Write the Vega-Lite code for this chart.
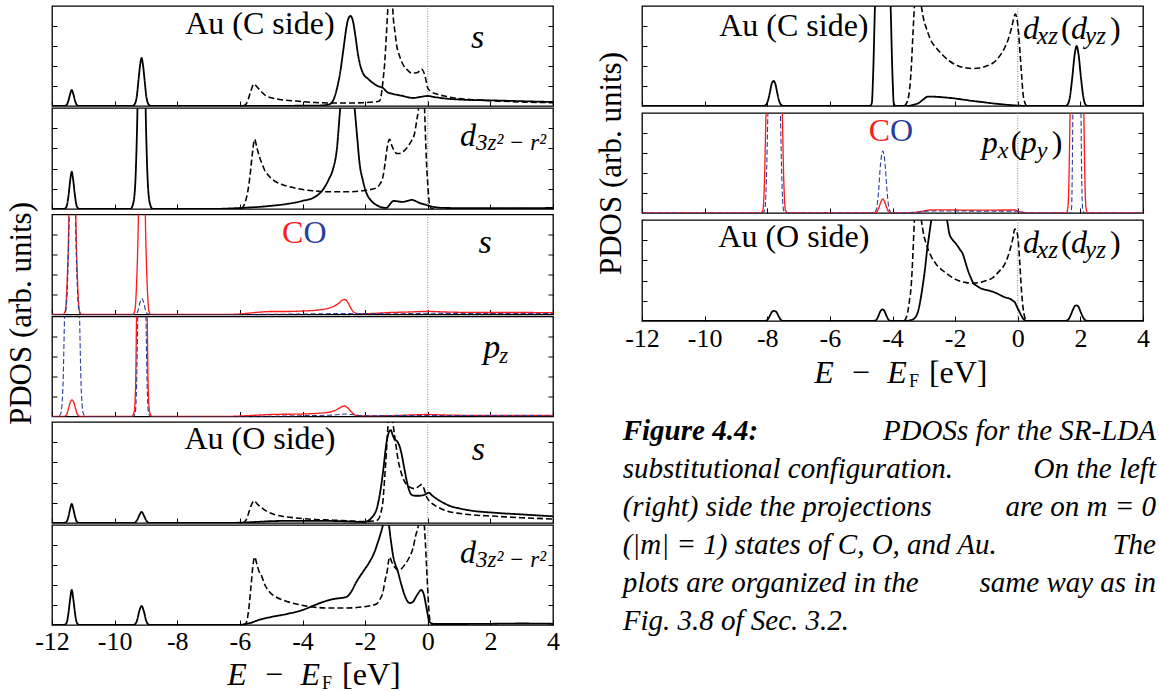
{
"$schema":"https://vega.github.io/schema/vega-lite/v6.json",
"background":"white",
"padding":{"left":5,"top":4,"right":0,"bottom":0},
"config":{"view":{"stroke":"#000","strokeWidth":1.3},"axis":{"minExtent":0,"tickColor":"#000","tickWidth":1,"domain":false,"grid":false,"labelColor":"#000","titleColor":"#000","labelFont":"Liberation Serif, DejaVu Serif, serif","titleFont":"Liberation Serif, DejaVu Serif, serif","titleFontWeight":"normal"},"text":{"font":"Liberation Serif, DejaVu Serif, serif","color":"#000","baseline":"alphabetic"}},
"datasets":{
"ef":[{"e":0}],
"cap":[{"i":1,"b":"Figure 4.4:","l":"","r":"PDOSs for the SR-LDA"},{"i":2,"b":"","l":"substitutional configuration.","r":"On the left"},{"i":3,"b":"","l":"(right) side the projections","r":"are on m = 0"},{"i":4,"b":"","l":"(|m| = 1) states of C, O, and Au.","r":"The"},{"i":5,"b":"","l":"plots are organized in the","r":"same way as in"},{"i":6,"b":"","l":"Fig. 3.8 of Sec. 3.2.","r":""}],
"L1":[{"s":"a","x":-12,"y":0},{"s":"a","x":-11.65,"y":0},{"s":"a","x":-11.57,"y":0.003},{"s":"a","x":-11.52,"y":0.016},{"s":"a","x":-11.47,"y":0.06},{"s":"a","x":-11.42,"y":0.12},{"s":"a","x":-11.37,"y":0.16},{"s":"a","x":-11.32,"y":0.12},{"s":"a","x":-11.27,"y":0.06},{"s":"a","x":-11.22,"y":0.016},{"s":"a","x":-11.17,"y":0.003},{"s":"a","x":-11.1,"y":0},{"s":"a","x":-9.45,"y":0},{"s":"a","x":-9.38,"y":0.01},{"s":"a","x":-9.3,"y":0.08},{"s":"a","x":-9.24,"y":0.25},{"s":"a","x":-9.19,"y":0.4},{"s":"a","x":-9.14,"y":0.48},{"s":"a","x":-9.09,"y":0.4},{"s":"a","x":-9.04,"y":0.25},{"s":"a","x":-8.98,"y":0.08},{"s":"a","x":-8.9,"y":0.01},{"s":"a","x":-8.83,"y":0},{"s":"a","x":-6,"y":0},{"s":"a","x":-4,"y":0.003},{"s":"a","x":-3.4,"y":0.005},{"s":"a","x":-3.14,"y":0.017},{"s":"a","x":-3.0,"y":0.07},{"s":"a","x":-2.92,"y":0.15},{"s":"a","x":-2.8,"y":0.33},{"s":"a","x":-2.7,"y":0.55},{"s":"a","x":-2.6,"y":0.78},{"s":"a","x":-2.55,"y":0.86},{"s":"a","x":-2.47,"y":0.9},{"s":"a","x":-2.39,"y":0.85},{"s":"a","x":-2.31,"y":0.7},{"s":"a","x":-2.23,"y":0.52},{"s":"a","x":-2.15,"y":0.4},{"s":"a","x":-2.07,"y":0.33},{"s":"a","x":-1.9,"y":0.27},{"s":"a","x":-1.75,"y":0.23},{"s":"a","x":-1.6,"y":0.2},{"s":"a","x":-1.43,"y":0.18},{"s":"a","x":-1.3,"y":0.14},{"s":"a","x":-1.1,"y":0.12},{"s":"a","x":-0.95,"y":0.11},{"s":"a","x":-0.8,"y":0.1},{"s":"a","x":-0.6,"y":0.085},{"s":"a","x":-0.47,"y":0.08},{"s":"a","x":-0.25,"y":0.09},{"s":"a","x":0,"y":0.1},{"s":"a","x":0.2,"y":0.09},{"s":"a","x":0.5,"y":0.077},{"s":"a","x":1.13,"y":0.063},{"s":"a","x":2.2,"y":0.055},{"s":"a","x":3,"y":0.048},{"s":"a","x":4,"y":0.04},
{"s":"r","x":-5.9,"y":0},{"s":"r","x":-5.8,"y":0.02},{"s":"r","x":-5.72,"y":0.08},{"s":"r","x":-5.65,"y":0.15},{"s":"r","x":-5.55,"y":0.22},{"s":"r","x":-5.45,"y":0.19},{"s":"r","x":-5.3,"y":0.14},{"s":"r","x":-5.16,"y":0.1},{"s":"r","x":-4.9,"y":0.075},{"s":"r","x":-4.6,"y":0.06},{"s":"r","x":-4.2,"y":0.05},{"s":"r","x":-3.6,"y":0.035},{"s":"r","x":-3.14,"y":0.03},{"s":"r","x":-2.5,"y":0.03},{"s":"r","x":-2.07,"y":0.033},{"s":"r","x":-1.75,"y":0.04},{"s":"r","x":-1.54,"y":0.05},{"s":"r","x":-1.48,"y":0.12},{"s":"r","x":-1.43,"y":0.25},{"s":"r","x":-1.37,"y":0.45},{"s":"r","x":-1.32,"y":0.72},{"s":"r","x":-1.27,"y":1.0},{"s":"r","x":-1.2,"y":1.3},{"s":"r","x":-1.14,"y":1.1},{"s":"r","x":-1.1,"y":0.88},{"s":"r","x":-1.05,"y":0.75},{"s":"r","x":-1.0,"y":0.62},{"s":"r","x":-0.9,"y":0.5},{"s":"r","x":-0.8,"y":0.42},{"s":"r","x":-0.65,"y":0.36},{"s":"r","x":-0.52,"y":0.33},{"s":"r","x":-0.4,"y":0.33},{"s":"r","x":-0.3,"y":0.34},{"s":"r","x":-0.2,"y":0.37},{"s":"r","x":-0.13,"y":0.34},{"s":"r","x":-0.08,"y":0.29},{"s":"r","x":0,"y":0.18},{"s":"r","x":0.1,"y":0.145},{"s":"r","x":0.28,"y":0.12},{"s":"r","x":0.6,"y":0.095},{"s":"r","x":0.92,"y":0.077},{"s":"r","x":1.5,"y":0.062},{"s":"r","x":2.2,"y":0.05},{"s":"r","x":3,"y":0.04},{"s":"r","x":4,"y":0.033}],
"L2":[{"s":"a","x":-12,"y":0},{"s":"a","x":-11.65,"y":0},{"s":"a","x":-11.57,"y":0.008},{"s":"a","x":-11.52,"y":0.04},{"s":"a","x":-11.47,"y":0.14},{"s":"a","x":-11.42,"y":0.28},{"s":"a","x":-11.37,"y":0.37},{"s":"a","x":-11.32,"y":0.28},{"s":"a","x":-11.27,"y":0.14},{"s":"a","x":-11.22,"y":0.04},{"s":"a","x":-11.17,"y":0.008},{"s":"a","x":-11.1,"y":0},{"s":"a","x":-9.5,"y":0},{"s":"a","x":-9.42,"y":0.04},{"s":"a","x":-9.35,"y":0.2},{"s":"a","x":-9.31,"y":0.5},{"s":"a","x":-9.27,"y":1.0},{"s":"a","x":-9.21,"y":2.2},{"s":"a","x":-9.14,"y":3},{"s":"a","x":-9.07,"y":2.2},{"s":"a","x":-9.01,"y":1.0},{"s":"a","x":-8.97,"y":0.5},{"s":"a","x":-8.93,"y":0.2},{"s":"a","x":-8.86,"y":0.04},{"s":"a","x":-8.78,"y":0},{"s":"a","x":-7,"y":0},{"s":"a","x":-6.0,"y":0.01},{"s":"a","x":-5.05,"y":0.03},{"s":"a","x":-4.5,"y":0.05},{"s":"a","x":-4.0,"y":0.08},{"s":"a","x":-3.6,"y":0.12},{"s":"a","x":-3.35,"y":0.19},{"s":"a","x":-3.15,"y":0.3},{"s":"a","x":-3.03,"y":0.39},{"s":"a","x":-2.9,"y":0.6},{"s":"a","x":-2.8,"y":0.98},{"s":"a","x":-2.65,"y":1.4},{"s":"a","x":-2.55,"y":1.5},{"s":"a","x":-2.45,"y":1.35},{"s":"a","x":-2.33,"y":0.98},{"s":"a","x":-2.25,"y":0.7},{"s":"a","x":-2.18,"y":0.46},{"s":"a","x":-2.07,"y":0.28},{"s":"a","x":-1.96,"y":0.16},{"s":"a","x":-1.8,"y":0.08},{"s":"a","x":-1.64,"y":0.04},{"s":"a","x":-1.45,"y":0.015},{"s":"a","x":-1.32,"y":0.01},{"s":"a","x":-1.2,"y":0.05},{"s":"a","x":-1.1,"y":0.08},{"s":"a","x":-0.95,"y":0.075},{"s":"a","x":-0.8,"y":0.07},{"s":"a","x":-0.65,"y":0.08},{"s":"a","x":-0.52,"y":0.09},{"s":"a","x":-0.4,"y":0.08},{"s":"a","x":-0.26,"y":0.06},{"s":"a","x":-0.1,"y":0.045},{"s":"a","x":0.06,"y":0.03},{"s":"a","x":0.3,"y":0.015},{"s":"a","x":0.6,"y":0.01},{"s":"a","x":2,"y":0.008},{"s":"a","x":4,"y":0.01},
{"s":"r","x":-5.95,"y":0},{"s":"r","x":-5.85,"y":0.05},{"s":"r","x":-5.75,"y":0.17},{"s":"r","x":-5.68,"y":0.32},{"s":"r","x":-5.6,"y":0.55},{"s":"r","x":-5.53,"y":0.69},{"s":"r","x":-5.45,"y":0.6},{"s":"r","x":-5.38,"y":0.52},{"s":"r","x":-5.32,"y":0.47},{"s":"r","x":-5.2,"y":0.38},{"s":"r","x":-5.05,"y":0.32},{"s":"r","x":-4.85,"y":0.27},{"s":"r","x":-4.63,"y":0.24},{"s":"r","x":-4.2,"y":0.205},{"s":"r","x":-3.67,"y":0.18},{"s":"r","x":-3.1,"y":0.17},{"s":"r","x":-2.6,"y":0.17},{"s":"r","x":-2.1,"y":0.18},{"s":"r","x":-1.8,"y":0.195},{"s":"r","x":-1.64,"y":0.21},{"s":"r","x":-1.52,"y":0.25},{"s":"r","x":-1.43,"y":0.32},{"s":"r","x":-1.36,"y":0.46},{"s":"r","x":-1.3,"y":0.6},{"s":"r","x":-1.22,"y":0.69},{"s":"r","x":-1.15,"y":0.63},{"s":"r","x":-1.06,"y":0.57},{"s":"r","x":-0.98,"y":0.55},{"s":"r","x":-0.9,"y":0.55},{"s":"r","x":-0.78,"y":0.57},{"s":"r","x":-0.68,"y":0.6},{"s":"r","x":-0.55,"y":0.66},{"s":"r","x":-0.42,"y":0.75},{"s":"r","x":-0.35,"y":0.88},{"s":"r","x":-0.3,"y":0.98},{"s":"r","x":-0.24,"y":1.2},{"s":"r","x":-0.18,"y":1.3},{"s":"r","x":-0.12,"y":1.15},{"s":"r","x":-0.1,"y":0.98},{"s":"r","x":-0.07,"y":0.7},{"s":"r","x":-0.04,"y":0.46},{"s":"r","x":0,"y":0.25},{"s":"r","x":0.06,"y":0.04},{"s":"r","x":0.12,"y":0.005},{"s":"r","x":0.2,"y":0}],
"L3":[{"s":"c","x":-12,"y":0},{"s":"c","x":-11.65,"y":0},{"s":"c","x":-11.58,"y":0.03},{"s":"c","x":-11.52,"y":0.3},{"s":"c","x":-11.46,"y":1.0},{"s":"c","x":-11.4,"y":2.5},{"s":"c","x":-11.35,"y":3},{"s":"c","x":-11.3,"y":2.5},{"s":"c","x":-11.24,"y":1.0},{"s":"c","x":-11.18,"y":0.3},{"s":"c","x":-11.12,"y":0.03},{"s":"c","x":-11.05,"y":0},{"s":"c","x":-9.42,"y":0},{"s":"c","x":-9.36,"y":0.03},{"s":"c","x":-9.3,"y":0.3},{"s":"c","x":-9.24,"y":1.0},{"s":"c","x":-9.18,"y":2.5},{"s":"c","x":-9.13,"y":3},{"s":"c","x":-9.08,"y":2.5},{"s":"c","x":-9.02,"y":1.0},{"s":"c","x":-8.96,"y":0.3},{"s":"c","x":-8.9,"y":0.03},{"s":"c","x":-8.84,"y":0},{"s":"c","x":-6.5,"y":0},{"s":"c","x":-6,"y":0.005},{"s":"c","x":-5.5,"y":0.02},{"s":"c","x":-5,"y":0.03},{"s":"c","x":-4.5,"y":0.03},{"s":"c","x":-4,"y":0.035},{"s":"c","x":-3.5,"y":0.045},{"s":"c","x":-3.1,"y":0.07},{"s":"c","x":-2.85,"y":0.11},{"s":"c","x":-2.72,"y":0.145},{"s":"c","x":-2.65,"y":0.15},{"s":"c","x":-2.55,"y":0.12},{"s":"c","x":-2.45,"y":0.06},{"s":"c","x":-2.35,"y":0.02},{"s":"c","x":-2.2,"y":0.008},{"s":"c","x":-1.8,"y":0.01},{"s":"c","x":-1.2,"y":0.02},{"s":"c","x":-0.6,"y":0.025},{"s":"c","x":-0.2,"y":0.03},{"s":"c","x":0,"y":0.032},{"s":"c","x":0.3,"y":0.028},{"s":"c","x":1,"y":0.022},{"s":"c","x":2,"y":0.02},{"s":"c","x":3,"y":0.02},{"s":"c","x":4,"y":0.018},
{"s":"o","x":-12,"y":0},{"s":"o","x":-11.62,"y":0},{"s":"o","x":-11.56,"y":0.04},{"s":"o","x":-11.5,"y":0.35},{"s":"o","x":-11.45,"y":1.0},{"s":"o","x":-11.4,"y":2.3},{"s":"o","x":-11.35,"y":2.8},{"s":"o","x":-11.3,"y":2.3},{"s":"o","x":-11.25,"y":1.0},{"s":"o","x":-11.2,"y":0.35},{"s":"o","x":-11.14,"y":0.04},{"s":"o","x":-11.08,"y":0},{"s":"o","x":-9.4,"y":0},{"s":"o","x":-9.3,"y":0.01},{"s":"o","x":-9.24,"y":0.05},{"s":"o","x":-9.19,"y":0.12},{"s":"o","x":-9.13,"y":0.16},{"s":"o","x":-9.07,"y":0.12},{"s":"o","x":-9.02,"y":0.05},{"s":"o","x":-8.96,"y":0.01},{"s":"o","x":-8.86,"y":0},{"s":"o","x":-6,"y":0},{"s":"o","x":-4,"y":0.005},{"s":"o","x":-2.6,"y":0.01},{"s":"o","x":-1,"y":0.008},{"s":"o","x":0,"y":0.012},{"s":"o","x":2,"y":0.01},{"s":"o","x":4,"y":0.01}],
"L4":[{"s":"c","x":-12,"y":0},{"s":"c","x":-11.62,"y":0},{"s":"c","x":-11.54,"y":0.015},{"s":"c","x":-11.48,"y":0.07},{"s":"c","x":-11.42,"y":0.14},{"s":"c","x":-11.36,"y":0.165},{"s":"c","x":-11.3,"y":0.14},{"s":"c","x":-11.24,"y":0.07},{"s":"c","x":-11.18,"y":0.015},{"s":"c","x":-11.1,"y":0},{"s":"c","x":-9.45,"y":0},{"s":"c","x":-9.38,"y":0.04},{"s":"c","x":-9.33,"y":0.3},{"s":"c","x":-9.3,"y":1.0},{"s":"c","x":-9.22,"y":2.2},{"s":"c","x":-9.13,"y":3},{"s":"c","x":-9.04,"y":2.2},{"s":"c","x":-8.96,"y":1.0},{"s":"c","x":-8.93,"y":0.3},{"s":"c","x":-8.88,"y":0.04},{"s":"c","x":-8.8,"y":0},{"s":"c","x":-6.5,"y":0},{"s":"c","x":-6,"y":0.005},{"s":"c","x":-5,"y":0.02},{"s":"c","x":-4,"y":0.025},{"s":"c","x":-3.2,"y":0.04},{"s":"c","x":-2.9,"y":0.07},{"s":"c","x":-2.72,"y":0.1},{"s":"c","x":-2.65,"y":0.105},{"s":"c","x":-2.55,"y":0.085},{"s":"c","x":-2.42,"y":0.04},{"s":"c","x":-2.3,"y":0.012},{"s":"c","x":-2,"y":0.006},{"s":"c","x":-1,"y":0.01},{"s":"c","x":0,"y":0.02},{"s":"c","x":0.5,"y":0.015},{"s":"c","x":2,"y":0.01},{"s":"c","x":4,"y":0.01},
{"s":"o","x":-12,"y":0},{"s":"o","x":-11.8,"y":0},{"s":"o","x":-11.72,"y":0.03},{"s":"o","x":-11.65,"y":0.3},{"s":"o","x":-11.6,"y":1.0},{"s":"o","x":-11.5,"y":2.2},{"s":"o","x":-11.36,"y":2.8},{"s":"o","x":-11.22,"y":2.2},{"s":"o","x":-11.12,"y":1.0},{"s":"o","x":-11.07,"y":0.3},{"s":"o","x":-11.0,"y":0.03},{"s":"o","x":-10.93,"y":0},{"s":"o","x":-9.4,"y":0},{"s":"o","x":-9.34,"y":0.04},{"s":"o","x":-9.3,"y":0.3},{"s":"o","x":-9.26,"y":1.0},{"s":"o","x":-9.2,"y":2.2},{"s":"o","x":-9.13,"y":3},{"s":"o","x":-9.06,"y":2.2},{"s":"o","x":-9.0,"y":1.0},{"s":"o","x":-8.96,"y":0.3},{"s":"o","x":-8.92,"y":0.04},{"s":"o","x":-8.86,"y":0},{"s":"o","x":-6,"y":0},{"s":"o","x":-4,"y":0.008},{"s":"o","x":-3,"y":0.015},{"s":"o","x":-2.6,"y":0.025},{"s":"o","x":-2.3,"y":0.015},{"s":"o","x":-2,"y":0.008},{"s":"o","x":0,"y":0.01},{"s":"o","x":4,"y":0.008}],
"L5":[{"s":"a","x":-12,"y":0},{"s":"a","x":-11.65,"y":0},{"s":"a","x":-11.57,"y":0.004},{"s":"a","x":-11.52,"y":0.02},{"s":"a","x":-11.47,"y":0.07},{"s":"a","x":-11.42,"y":0.14},{"s":"a","x":-11.37,"y":0.19},{"s":"a","x":-11.32,"y":0.14},{"s":"a","x":-11.27,"y":0.07},{"s":"a","x":-11.22,"y":0.02},{"s":"a","x":-11.17,"y":0.004},{"s":"a","x":-11.1,"y":0},{"s":"a","x":-9.42,"y":0},{"s":"a","x":-9.35,"y":0.005},{"s":"a","x":-9.28,"y":0.03},{"s":"a","x":-9.22,"y":0.07},{"s":"a","x":-9.14,"y":0.11},{"s":"a","x":-9.06,"y":0.07},{"s":"a","x":-9.0,"y":0.03},{"s":"a","x":-8.93,"y":0.005},{"s":"a","x":-8.86,"y":0},{"s":"a","x":-6.5,"y":0},{"s":"a","x":-6,"y":0.003},{"s":"a","x":-5.5,"y":0.01},{"s":"a","x":-5,"y":0.018},{"s":"a","x":-4.2,"y":0.022},{"s":"a","x":-3,"y":0.02},{"s":"a","x":-2.5,"y":0.015},{"s":"a","x":-2.07,"y":0.01},{"s":"a","x":-1.92,"y":0.02},{"s":"a","x":-1.8,"y":0.05},{"s":"a","x":-1.7,"y":0.09},{"s":"a","x":-1.64,"y":0.13},{"s":"a","x":-1.55,"y":0.25},{"s":"a","x":-1.43,"y":0.5},{"s":"a","x":-1.32,"y":0.79},{"s":"a","x":-1.24,"y":0.9},{"s":"a","x":-1.18,"y":0.92},{"s":"a","x":-1.12,"y":0.87},{"s":"a","x":-1.06,"y":0.83},{"s":"a","x":-0.98,"y":0.81},{"s":"a","x":-0.9,"y":0.76},{"s":"a","x":-0.84,"y":0.69},{"s":"a","x":-0.76,"y":0.56},{"s":"a","x":-0.68,"y":0.43},{"s":"a","x":-0.6,"y":0.33},{"s":"a","x":-0.52,"y":0.28},{"s":"a","x":-0.4,"y":0.27},{"s":"a","x":-0.26,"y":0.27},{"s":"a","x":-0.1,"y":0.28},{"s":"a","x":0.03,"y":0.3},{"s":"a","x":0.15,"y":0.27},{"s":"a","x":0.28,"y":0.24},{"s":"a","x":0.5,"y":0.2},{"s":"a","x":0.7,"y":0.17},{"s":"a","x":1.0,"y":0.145},{"s":"a","x":1.34,"y":0.125},{"s":"a","x":2.2,"y":0.1},{"s":"a","x":3,"y":0.085},{"s":"a","x":4,"y":0.066},
{"s":"r","x":-5.9,"y":0},{"s":"r","x":-5.8,"y":0.03},{"s":"r","x":-5.72,"y":0.1},{"s":"r","x":-5.63,"y":0.18},{"s":"r","x":-5.55,"y":0.22},{"s":"r","x":-5.45,"y":0.19},{"s":"r","x":-5.3,"y":0.15},{"s":"r","x":-5.16,"y":0.12},{"s":"r","x":-4.9,"y":0.085},{"s":"r","x":-4.6,"y":0.065},{"s":"r","x":-4.2,"y":0.05},{"s":"r","x":-3.6,"y":0.035},{"s":"r","x":-3,"y":0.028},{"s":"r","x":-2.5,"y":0.02},{"s":"r","x":-2.07,"y":0.015},{"s":"r","x":-1.75,"y":0.02},{"s":"r","x":-1.6,"y":0.03},{"s":"r","x":-1.5,"y":0.1},{"s":"r","x":-1.43,"y":0.22},{"s":"r","x":-1.38,"y":0.43},{"s":"r","x":-1.32,"y":0.7},{"s":"r","x":-1.27,"y":0.96},{"s":"r","x":-1.2,"y":1.15},{"s":"r","x":-1.14,"y":1.05},{"s":"r","x":-1.1,"y":0.96},{"s":"r","x":-1.02,"y":0.78},{"s":"r","x":-0.95,"y":0.63},{"s":"r","x":-0.85,"y":0.5},{"s":"r","x":-0.74,"y":0.41},{"s":"r","x":-0.6,"y":0.36},{"s":"r","x":-0.42,"y":0.34},{"s":"r","x":-0.3,"y":0.36},{"s":"r","x":-0.2,"y":0.38},{"s":"r","x":-0.12,"y":0.34},{"s":"r","x":-0.04,"y":0.26},{"s":"r","x":0.08,"y":0.21},{"s":"r","x":0.28,"y":0.165},{"s":"r","x":0.6,"y":0.12},{"s":"r","x":1.13,"y":0.09},{"s":"r","x":2.2,"y":0.066},{"s":"r","x":3,"y":0.052},{"s":"r","x":4,"y":0.04}],
"L6":[{"s":"a","x":-12,"y":0},{"s":"a","x":-11.65,"y":0},{"s":"a","x":-11.57,"y":0.007},{"s":"a","x":-11.52,"y":0.035},{"s":"a","x":-11.47,"y":0.13},{"s":"a","x":-11.42,"y":0.26},{"s":"a","x":-11.37,"y":0.35},{"s":"a","x":-11.32,"y":0.26},{"s":"a","x":-11.27,"y":0.13},{"s":"a","x":-11.22,"y":0.035},{"s":"a","x":-11.17,"y":0.007},{"s":"a","x":-11.1,"y":0},{"s":"a","x":-9.42,"y":0},{"s":"a","x":-9.35,"y":0.008},{"s":"a","x":-9.28,"y":0.05},{"s":"a","x":-9.22,"y":0.13},{"s":"a","x":-9.14,"y":0.19},{"s":"a","x":-9.06,"y":0.13},{"s":"a","x":-9.0,"y":0.05},{"s":"a","x":-8.93,"y":0.008},{"s":"a","x":-8.86,"y":0},{"s":"a","x":-6.5,"y":0},{"s":"a","x":-6.0,"y":0.002},{"s":"a","x":-5.7,"y":0.017},{"s":"a","x":-5.4,"y":0.05},{"s":"a","x":-5.05,"y":0.077},{"s":"a","x":-4.5,"y":0.11},{"s":"a","x":-4.0,"y":0.15},{"s":"a","x":-3.6,"y":0.2},{"s":"a","x":-3.35,"y":0.23},{"s":"a","x":-3.0,"y":0.26},{"s":"a","x":-2.6,"y":0.28},{"s":"a","x":-2.45,"y":0.33},{"s":"a","x":-2.28,"y":0.43},{"s":"a","x":-2.05,"y":0.54},{"s":"a","x":-1.86,"y":0.63},{"s":"a","x":-1.7,"y":0.73},{"s":"a","x":-1.59,"y":0.83},{"s":"a","x":-1.5,"y":0.92},{"s":"a","x":-1.43,"y":1.0},{"s":"a","x":-1.33,"y":1.12},{"s":"a","x":-1.24,"y":1.0},{"s":"a","x":-1.18,"y":0.85},{"s":"a","x":-1.11,"y":0.7},{"s":"a","x":-0.95,"y":0.53},{"s":"a","x":-0.84,"y":0.4},{"s":"a","x":-0.74,"y":0.3},{"s":"a","x":-0.58,"y":0.22},{"s":"a","x":-0.48,"y":0.23},{"s":"a","x":-0.36,"y":0.29},{"s":"a","x":-0.2,"y":0.35},{"s":"a","x":-0.12,"y":0.3},{"s":"a","x":-0.04,"y":0.17},{"s":"a","x":0.06,"y":0.03},{"s":"a","x":0.15,"y":0.015},{"s":"a","x":0.28,"y":0.01},{"s":"a","x":1,"y":0.01},{"s":"a","x":2,"y":0.012},{"s":"a","x":3,"y":0.015},{"s":"a","x":4,"y":0.012},
{"s":"r","x":-5.9,"y":0},{"s":"r","x":-5.8,"y":0.02},{"s":"r","x":-5.72,"y":0.15},{"s":"r","x":-5.65,"y":0.37},{"s":"r","x":-5.58,"y":0.6},{"s":"r","x":-5.53,"y":0.68},{"s":"r","x":-5.45,"y":0.6},{"s":"r","x":-5.38,"y":0.53},{"s":"r","x":-5.32,"y":0.5},{"s":"r","x":-5.2,"y":0.4},{"s":"r","x":-5.05,"y":0.33},{"s":"r","x":-4.85,"y":0.28},{"s":"r","x":-4.63,"y":0.25},{"s":"r","x":-4.2,"y":0.21},{"s":"r","x":-3.67,"y":0.18},{"s":"r","x":-3.1,"y":0.17},{"s":"r","x":-2.6,"y":0.17},{"s":"r","x":-2.1,"y":0.18},{"s":"r","x":-1.8,"y":0.195},{"s":"r","x":-1.64,"y":0.21},{"s":"r","x":-1.52,"y":0.26},{"s":"r","x":-1.43,"y":0.33},{"s":"r","x":-1.36,"y":0.45},{"s":"r","x":-1.3,"y":0.53},{"s":"r","x":-1.22,"y":0.68},{"s":"r","x":-1.15,"y":0.63},{"s":"r","x":-1.06,"y":0.58},{"s":"r","x":-0.95,"y":0.55},{"s":"r","x":-0.85,"y":0.56},{"s":"r","x":-0.74,"y":0.6},{"s":"r","x":-0.6,"y":0.67},{"s":"r","x":-0.47,"y":0.77},{"s":"r","x":-0.38,"y":0.9},{"s":"r","x":-0.3,"y":1.0},{"s":"r","x":-0.24,"y":1.2},{"s":"r","x":-0.18,"y":1.3},{"s":"r","x":-0.12,"y":1.05},{"s":"r","x":-0.08,"y":0.85},{"s":"r","x":-0.04,"y":0.6},{"s":"r","x":0,"y":0.35},{"s":"r","x":0.06,"y":0.07},{"s":"r","x":0.12,"y":0.01},{"s":"r","x":0.2,"y":0}],
"R1":[{"s":"a","x":-12,"y":0},{"s":"a","x":-8.15,"y":0},{"s":"a","x":-8.05,"y":0.01},{"s":"a","x":-7.98,"y":0.05},{"s":"a","x":-7.92,"y":0.13},{"s":"a","x":-7.86,"y":0.22},{"s":"a","x":-7.8,"y":0.25},{"s":"a","x":-7.74,"y":0.22},{"s":"a","x":-7.68,"y":0.13},{"s":"a","x":-7.62,"y":0.05},{"s":"a","x":-7.55,"y":0.01},{"s":"a","x":-7.46,"y":0},{"s":"a","x":-4.72,"y":0},{"s":"a","x":-4.66,"y":0.03},{"s":"a","x":-4.62,"y":0.3},{"s":"a","x":-4.56,"y":1.0},{"s":"a","x":-4.45,"y":2.0},{"s":"a","x":-4.3,"y":2.4},{"s":"a","x":-4.16,"y":2.0},{"s":"a","x":-4.06,"y":1.0},{"s":"a","x":-4.0,"y":0.3},{"s":"a","x":-3.96,"y":0.03},{"s":"a","x":-3.9,"y":0},{"s":"a","x":-3.5,"y":0},{"s":"a","x":-3.35,"y":0.01},{"s":"a","x":-3.2,"y":0.025},{"s":"a","x":-3.14,"y":0.035},{"s":"a","x":-3.0,"y":0.07},{"s":"a","x":-2.88,"y":0.093},{"s":"a","x":-2.7,"y":0.093},{"s":"a","x":-2.5,"y":0.09},{"s":"a","x":-2.2,"y":0.082},{"s":"a","x":-1.96,"y":0.073},{"s":"a","x":-1.7,"y":0.062},{"s":"a","x":-1.43,"y":0.05},{"s":"a","x":-1.15,"y":0.04},{"s":"a","x":-0.9,"y":0.03},{"s":"a","x":-0.6,"y":0.02},{"s":"a","x":-0.26,"y":0.01},{"s":"a","x":0.06,"y":0.003},{"s":"a","x":0.3,"y":0},{"s":"a","x":1.5,"y":0},{"s":"a","x":1.58,"y":0.01},{"s":"a","x":1.66,"y":0.08},{"s":"a","x":1.74,"y":0.28},{"s":"a","x":1.82,"y":0.52},{"s":"a","x":1.88,"y":0.6},{"s":"a","x":1.94,"y":0.52},{"s":"a","x":2.02,"y":0.28},{"s":"a","x":2.1,"y":0.08},{"s":"a","x":2.18,"y":0.01},{"s":"a","x":2.26,"y":0},{"s":"a","x":4,"y":0},
{"s":"r","x":-3.62,"y":0},{"s":"r","x":-3.52,"y":0.05},{"s":"r","x":-3.46,"y":0.15},{"s":"r","x":-3.4,"y":0.38},{"s":"r","x":-3.35,"y":0.7},{"s":"r","x":-3.3,"y":1.0},{"s":"r","x":-3.2,"y":1.3},{"s":"r","x":-3.08,"y":1.0},{"s":"r","x":-3.0,"y":0.86},{"s":"r","x":-2.92,"y":0.78},{"s":"r","x":-2.78,"y":0.66},{"s":"r","x":-2.6,"y":0.58},{"s":"r","x":-2.4,"y":0.51},{"s":"r","x":-2.18,"y":0.45},{"s":"r","x":-1.9,"y":0.4},{"s":"r","x":-1.64,"y":0.38},{"s":"r","x":-1.43,"y":0.375},{"s":"r","x":-1.22,"y":0.38},{"s":"r","x":-1.0,"y":0.4},{"s":"r","x":-0.79,"y":0.43},{"s":"r","x":-0.6,"y":0.49},{"s":"r","x":-0.42,"y":0.58},{"s":"r","x":-0.3,"y":0.67},{"s":"r","x":-0.2,"y":0.78},{"s":"r","x":-0.14,"y":0.86},{"s":"r","x":-0.08,"y":0.92},{"s":"r","x":-0.03,"y":0.88},{"s":"r","x":0.03,"y":0.72},{"s":"r","x":0.08,"y":0.5},{"s":"r","x":0.13,"y":0.28},{"s":"r","x":0.17,"y":0.12},{"s":"r","x":0.22,"y":0.04},{"s":"r","x":0.28,"y":0}],
"R2":[{"s":"c","x":-12,"y":0},{"s":"c","x":-8.22,"y":0},{"s":"c","x":-8.14,"y":0.03},{"s":"c","x":-8.09,"y":0.3},{"s":"c","x":-8.04,"y":1.0},{"s":"c","x":-7.93,"y":2.2},{"s":"c","x":-7.78,"y":2.8},{"s":"c","x":-7.63,"y":2.2},{"s":"c","x":-7.52,"y":1.0},{"s":"c","x":-7.47,"y":0.3},{"s":"c","x":-7.42,"y":0.03},{"s":"c","x":-7.34,"y":0},{"s":"c","x":-4.58,"y":0},{"s":"c","x":-4.5,"y":0.01},{"s":"c","x":-4.44,"y":0.05},{"s":"c","x":-4.37,"y":0.11},{"s":"c","x":-4.31,"y":0.14},{"s":"c","x":-4.25,"y":0.11},{"s":"c","x":-4.18,"y":0.05},{"s":"c","x":-4.12,"y":0.01},{"s":"c","x":-4.04,"y":0},{"s":"c","x":-3.4,"y":0.003},{"s":"c","x":-3.1,"y":0.015},{"s":"c","x":-2.8,"y":0.03},{"s":"c","x":-2.5,"y":0.032},{"s":"c","x":-2,"y":0.03},{"s":"c","x":-1.5,"y":0.028},{"s":"c","x":-1,"y":0.028},{"s":"c","x":-0.5,"y":0.03},{"s":"c","x":-0.1,"y":0.03},{"s":"c","x":0.1,"y":0.01},{"s":"c","x":0.4,"y":0},{"s":"c","x":1.55,"y":0},{"s":"c","x":1.6,"y":0.05},{"s":"c","x":1.64,"y":0.4},{"s":"c","x":1.67,"y":1.0},{"s":"c","x":1.76,"y":2.2},{"s":"c","x":1.89,"y":2.8},{"s":"c","x":2.02,"y":2.2},{"s":"c","x":2.11,"y":1.0},{"s":"c","x":2.14,"y":0.4},{"s":"c","x":2.18,"y":0.05},{"s":"c","x":2.24,"y":0},{"s":"c","x":4,"y":0},
{"s":"o","x":-12,"y":0},{"s":"o","x":-8.15,"y":0},{"s":"o","x":-8.08,"y":0.03},{"s":"o","x":-8.03,"y":0.3},{"s":"o","x":-7.98,"y":1.0},{"s":"o","x":-7.88,"y":2.2},{"s":"o","x":-7.78,"y":2.8},{"s":"o","x":-7.68,"y":2.2},{"s":"o","x":-7.58,"y":1.0},{"s":"o","x":-7.53,"y":0.3},{"s":"o","x":-7.48,"y":0.03},{"s":"o","x":-7.41,"y":0},{"s":"o","x":-4.6,"y":0},{"s":"o","x":-4.52,"y":0.03},{"s":"o","x":-4.45,"y":0.2},{"s":"o","x":-4.38,"y":0.5},{"s":"o","x":-4.31,"y":0.62},{"s":"o","x":-4.24,"y":0.5},{"s":"o","x":-4.17,"y":0.2},{"s":"o","x":-4.1,"y":0.03},{"s":"o","x":-4.02,"y":0},{"s":"o","x":-3.2,"y":0.008},{"s":"o","x":-2.8,"y":0.02},{"s":"o","x":-2,"y":0.02},{"s":"o","x":-1,"y":0.018},{"s":"o","x":0,"y":0.018},{"s":"o","x":0.2,"y":0.005},{"s":"o","x":0.4,"y":0},{"s":"o","x":1.68,"y":0},{"s":"o","x":1.72,"y":0.05},{"s":"o","x":1.74,"y":0.4},{"s":"o","x":1.76,"y":1.0},{"s":"o","x":1.82,"y":2.2},{"s":"o","x":1.89,"y":2.8},{"s":"o","x":1.96,"y":2.2},{"s":"o","x":2.02,"y":1.0},{"s":"o","x":2.04,"y":0.4},{"s":"o","x":2.07,"y":0.05},{"s":"o","x":2.12,"y":0},{"s":"o","x":4,"y":0}],
"R3":[{"s":"a","x":-12,"y":0},{"s":"a","x":-8.1,"y":0},{"s":"a","x":-8.0,"y":0.01},{"s":"a","x":-7.92,"y":0.05},{"s":"a","x":-7.85,"y":0.09},{"s":"a","x":-7.78,"y":0.1},{"s":"a","x":-7.71,"y":0.09},{"s":"a","x":-7.64,"y":0.05},{"s":"a","x":-7.56,"y":0.01},{"s":"a","x":-7.46,"y":0},{"s":"a","x":-4.62,"y":0},{"s":"a","x":-4.52,"y":0.01},{"s":"a","x":-4.45,"y":0.05},{"s":"a","x":-4.38,"y":0.1},{"s":"a","x":-4.32,"y":0.115},{"s":"a","x":-4.26,"y":0.1},{"s":"a","x":-4.19,"y":0.05},{"s":"a","x":-4.12,"y":0.01},{"s":"a","x":-4.02,"y":0},{"s":"a","x":-3.6,"y":0},{"s":"a","x":-3.4,"y":0.01},{"s":"a","x":-3.26,"y":0.04},{"s":"a","x":-3.18,"y":0.1},{"s":"a","x":-3.1,"y":0.22},{"s":"a","x":-3.03,"y":0.36},{"s":"a","x":-2.96,"y":0.52},{"s":"a","x":-2.9,"y":0.69},{"s":"a","x":-2.83,"y":0.85},{"s":"a","x":-2.76,"y":1.0},{"s":"a","x":-2.6,"y":1.25},{"s":"a","x":-2.45,"y":1.25},{"s":"a","x":-2.3,"y":1.05},{"s":"a","x":-2.26,"y":1.0},{"s":"a","x":-2.18,"y":0.86},{"s":"a","x":-2.07,"y":0.8},{"s":"a","x":-1.96,"y":0.76},{"s":"a","x":-1.85,"y":0.71},{"s":"a","x":-1.75,"y":0.66},{"s":"a","x":-1.67,"y":0.58},{"s":"a","x":-1.59,"y":0.5},{"s":"a","x":-1.5,"y":0.43},{"s":"a","x":-1.43,"y":0.38},{"s":"a","x":-1.32,"y":0.35},{"s":"a","x":-1.22,"y":0.33},{"s":"a","x":-1.05,"y":0.31},{"s":"a","x":-0.9,"y":0.3},{"s":"a","x":-0.75,"y":0.285},{"s":"a","x":-0.58,"y":0.26},{"s":"a","x":-0.45,"y":0.24},{"s":"a","x":-0.36,"y":0.23},{"s":"a","x":-0.25,"y":0.22},{"s":"a","x":-0.15,"y":0.2},{"s":"a","x":-0.08,"y":0.18},{"s":"a","x":-0.04,"y":0.15},{"s":"a","x":0.04,"y":0.1},{"s":"a","x":0.12,"y":0.05},{"s":"a","x":0.18,"y":0.02},{"s":"a","x":0.25,"y":0.003},{"s":"a","x":0.35,"y":0},{"s":"a","x":1.5,"y":0},{"s":"a","x":1.6,"y":0.01},{"s":"a","x":1.68,"y":0.05},{"s":"a","x":1.76,"y":0.11},{"s":"a","x":1.83,"y":0.15},{"s":"a","x":1.88,"y":0.155},{"s":"a","x":1.94,"y":0.14},{"s":"a","x":2.01,"y":0.09},{"s":"a","x":2.08,"y":0.04},{"s":"a","x":2.16,"y":0.008},{"s":"a","x":2.25,"y":0},{"s":"a","x":4,"y":0},
{"s":"r","x":-3.62,"y":0},{"s":"r","x":-3.52,"y":0.08},{"s":"r","x":-3.46,"y":0.2},{"s":"r","x":-3.4,"y":0.36},{"s":"r","x":-3.35,"y":0.65},{"s":"r","x":-3.3,"y":1.0},{"s":"r","x":-3.2,"y":1.3},{"s":"r","x":-3.08,"y":1.0},{"s":"r","x":-3.0,"y":0.85},{"s":"r","x":-2.92,"y":0.76},{"s":"r","x":-2.78,"y":0.65},{"s":"r","x":-2.6,"y":0.56},{"s":"r","x":-2.4,"y":0.5},{"s":"r","x":-2.18,"y":0.45},{"s":"r","x":-1.9,"y":0.4},{"s":"r","x":-1.64,"y":0.38},{"s":"r","x":-1.43,"y":0.375},{"s":"r","x":-1.22,"y":0.38},{"s":"r","x":-1.0,"y":0.4},{"s":"r","x":-0.79,"y":0.43},{"s":"r","x":-0.6,"y":0.49},{"s":"r","x":-0.42,"y":0.56},{"s":"r","x":-0.3,"y":0.65},{"s":"r","x":-0.2,"y":0.76},{"s":"r","x":-0.14,"y":0.84},{"s":"r","x":-0.1,"y":0.91},{"s":"r","x":-0.05,"y":0.9},{"s":"r","x":0.02,"y":0.78},{"s":"r","x":0.06,"y":0.6},{"s":"r","x":0.12,"y":0.3},{"s":"r","x":0.17,"y":0.13},{"s":"r","x":0.22,"y":0.04},{"s":"r","x":0.28,"y":0}]
},
"spacing":30,
"hconcat":[
{"spacing":-3,"hconcat":[
 {"width":31,"height":615,"data":{"name":"ef"},"view":{"stroke":null},"mark":{"type":"text","text":"PDOS (arb. units)","fontSize":31,"angle":270,"align":"center","baseline":"middle"},"encoding":{"x":{"datum":0.516,"scale":{"domain":[0,1]},"axis":null},"y":{"datum":0.5,"scale":{"domain":[0,1]},"axis":null}}},
 {"spacing":1.5,"vconcat":[
 {"spacing":-4,"vconcat":[
  {"width":501,"height":100,"data":{"name":"L1"},"resolve":{"axis":{"y":"independent"}},"layer":[
   {"data":{"name":"ef"},"mark":{"type":"rule","color":"#777","strokeDash":[1,1.5],"strokeWidth":0.9},"encoding":{"x":{"field":"e","type":"quantitative","scale":{"domain":[-12,4],"nice":false,"zero":false}}}},
   {"mark":{"type":"line","interpolate":"monotone","clip":true},"encoding":{"x":{"field":"x","type":"quantitative","scale":{"domain":[-12,4],"nice":false,"zero":false},"axis":{"values":[-12,-11,-10,-9,-8,-7,-6,-5,-4,-3,-2,-1,0,1,2,3,4],"labels":false,"title":null,"tickSize":-5}},"y":{"field":"y","type":"quantitative","scale":{"domain":[0,1],"nice":false,"zero":false},"axis":{"values":[0.2,0.4,0.6,0.8],"labels":false,"title":null,"tickSize":-5}},"color":{"field":"s","type":"nominal","scale":{"domain":["a","r","c","o"],"range":["#000000","#000000","#ff1a1a","#2c3b9e"]},"legend":null},"strokeDash":{"field":"s","type":"nominal","scale":{"domain":["a","r","c","o"],"range":[[1,0],[6,3],[1,0],[5,2.5]]},"legend":null},"strokeWidth":{"field":"s","type":"nominal","scale":{"domain":["a","r","c","o"],"range":[1.8,1.1,2,1.8]},"legend":null}}},
   {"data":{"name":"ef"},"mark":{"type":"text","text":"Au (C side)","fontSize":32,"align":"center"},"encoding":{"x":{"datum":-5.36},"y":{"datum":0.72,"axis":{"orient":"right","values":[0.2,0.4,0.6,0.8],"labels":false,"title":null,"tickSize":-5}}}},
   {"data":{"name":"ef"},"mark":{"type":"text","text":"s","fontSize":34,"fontStyle":"italic","align":"center"},"encoding":{"x":{"datum":1.59},"y":{"datum":0.58,"axis":null}}}
  ]},
  {"width":501,"height":101,"data":{"name":"L2"},"resolve":{"axis":{"y":"independent"}},"layer":[
   {"data":{"name":"ef"},"mark":{"type":"rule","color":"#777","strokeDash":[1,1.5],"strokeWidth":0.9},"encoding":{"x":{"field":"e","type":"quantitative","scale":{"domain":[-12,4],"nice":false,"zero":false}}}},
   {"mark":{"type":"line","interpolate":"monotone","clip":true},"encoding":{"x":{"field":"x","type":"quantitative","scale":{"domain":[-12,4],"nice":false,"zero":false},"axis":{"values":[-12,-11,-10,-9,-8,-7,-6,-5,-4,-3,-2,-1,0,1,2,3,4],"labels":false,"title":null,"tickSize":-5}},"y":{"field":"y","type":"quantitative","scale":{"domain":[0,1],"nice":false,"zero":false},"axis":{"values":[0.2,0.4,0.6,0.8],"labels":false,"title":null,"tickSize":-5}},"color":{"field":"s","type":"nominal","scale":{"domain":["a","r","c","o"],"range":["#000000","#000000","#ff1a1a","#2c3b9e"]},"legend":null},"strokeDash":{"field":"s","type":"nominal","scale":{"domain":["a","r","c","o"],"range":[[1,0],[6,3],[1,0],[5,2.5]]},"legend":null},"strokeWidth":{"field":"s","type":"nominal","scale":{"domain":["a","r","c","o"],"range":[1.8,1.1,2,1.8]},"legend":null}}},
   {"data":{"name":"ef"},"mark":{"type":"text","text":"d","fontSize":32,"fontStyle":"italic","align":"left"},"encoding":{"x":{"datum":1.03},"y":{"datum":0.62,"axis":{"orient":"right","values":[0.2,0.4,0.6,0.8],"labels":false,"title":null,"tickSize":-5}}}},
   {"data":{"name":"ef"},"mark":{"type":"text","text":"3z² − r²","fontSize":23,"fontStyle":"italic","align":"left","dx":16,"dy":4},"encoding":{"x":{"datum":1.03},"y":{"datum":0.62,"axis":null}}}
  ]}
 ]},
 {"spacing":-4,"vconcat":[
  {"width":501,"height":100,"data":{"name":"L3"},"resolve":{"axis":{"y":"independent"}},"layer":[
   {"data":{"name":"ef"},"mark":{"type":"rule","color":"#777","strokeDash":[1,1.5],"strokeWidth":0.9},"encoding":{"x":{"field":"e","type":"quantitative","scale":{"domain":[-12,4],"nice":false,"zero":false}}}},
   {"mark":{"type":"line","interpolate":"monotone","clip":true},"encoding":{"x":{"field":"x","type":"quantitative","scale":{"domain":[-12,4],"nice":false,"zero":false},"axis":{"values":[-12,-11,-10,-9,-8,-7,-6,-5,-4,-3,-2,-1,0,1,2,3,4],"labels":false,"title":null,"tickSize":-5}},"y":{"field":"y","type":"quantitative","scale":{"domain":[0,1],"nice":false,"zero":false},"axis":{"values":[0.2,0.4,0.6,0.8],"labels":false,"title":null,"tickSize":-5}},"color":{"field":"s","type":"nominal","scale":{"domain":["a","r","c","o"],"range":["#000000","#000000","#ff1a1a","#2c3b9e"]},"legend":null},"strokeDash":{"field":"s","type":"nominal","scale":{"domain":["a","r","c","o"],"range":[[1,0],[6,3],[1,0],[5,2.5]]},"legend":null},"strokeWidth":{"field":"s","type":"nominal","scale":{"domain":["a","r","c","o"],"range":[1.8,1.1,2,1.8]},"legend":null}}},
   {"data":{"name":"ef"},"mark":{"type":"text","text":"C","fontSize":32,"color":"#ff1a1a","align":"right"},"encoding":{"x":{"datum":-3.97},"y":{"datum":0.72,"axis":{"orient":"right","values":[0.2,0.4,0.6,0.8],"labels":false,"title":null,"tickSize":-5}}}},
   {"data":{"name":"ef"},"mark":{"type":"text","text":"O","fontSize":32,"color":"#2c3b9e","align":"left"},"encoding":{"x":{"datum":-3.97},"y":{"datum":0.72,"axis":null}}},
   {"data":{"name":"ef"},"mark":{"type":"text","text":"s","fontSize":34,"fontStyle":"italic","align":"center"},"encoding":{"x":{"datum":1.83},"y":{"datum":0.62,"axis":null}}}
  ]},
  {"width":501,"height":100,"data":{"name":"L4"},"resolve":{"axis":{"y":"independent"}},"layer":[
   {"data":{"name":"ef"},"mark":{"type":"rule","color":"#777","strokeDash":[1,1.5],"strokeWidth":0.9},"encoding":{"x":{"field":"e","type":"quantitative","scale":{"domain":[-12,4],"nice":false,"zero":false}}}},
   {"mark":{"type":"line","interpolate":"monotone","clip":true},"encoding":{"x":{"field":"x","type":"quantitative","scale":{"domain":[-12,4],"nice":false,"zero":false},"axis":{"values":[-12,-11,-10,-9,-8,-7,-6,-5,-4,-3,-2,-1,0,1,2,3,4],"labels":false,"title":null,"tickSize":-5}},"y":{"field":"y","type":"quantitative","scale":{"domain":[0,1],"nice":false,"zero":false},"axis":{"values":[0.2,0.4,0.6,0.8],"labels":false,"title":null,"tickSize":-5}},"color":{"field":"s","type":"nominal","scale":{"domain":["a","r","c","o"],"range":["#000000","#000000","#ff1a1a","#2c3b9e"]},"legend":null},"strokeDash":{"field":"s","type":"nominal","scale":{"domain":["a","r","c","o"],"range":[[1,0],[6,3],[1,0],[5,2.5]]},"legend":null},"strokeWidth":{"field":"s","type":"nominal","scale":{"domain":["a","r","c","o"],"range":[1.8,1.1,2,1.8]},"legend":null}}},
   {"data":{"name":"ef"},"mark":{"type":"text","text":"p","fontSize":34,"fontStyle":"italic","align":"left"},"encoding":{"x":{"datum":1.77},"y":{"datum":0.59,"axis":{"orient":"right","values":[0.2,0.4,0.6,0.8],"labels":false,"title":null,"tickSize":-5}}}},
   {"data":{"name":"ef"},"mark":{"type":"text","text":"z","fontSize":23,"fontStyle":"italic","align":"left","dx":16,"dy":5},"encoding":{"x":{"datum":1.77},"y":{"datum":0.59,"axis":null}}}
  ]}
 ]},
 {"spacing":-4,"vconcat":[
  {"width":501,"height":101,"data":{"name":"L5"},"resolve":{"axis":{"y":"independent"}},"layer":[
   {"data":{"name":"ef"},"mark":{"type":"rule","color":"#777","strokeDash":[1,1.5],"strokeWidth":0.9},"encoding":{"x":{"field":"e","type":"quantitative","scale":{"domain":[-12,4],"nice":false,"zero":false}}}},
   {"mark":{"type":"line","interpolate":"monotone","clip":true},"encoding":{"x":{"field":"x","type":"quantitative","scale":{"domain":[-12,4],"nice":false,"zero":false},"axis":{"values":[-12,-11,-10,-9,-8,-7,-6,-5,-4,-3,-2,-1,0,1,2,3,4],"labels":false,"title":null,"tickSize":-5}},"y":{"field":"y","type":"quantitative","scale":{"domain":[0,1],"nice":false,"zero":false},"axis":{"values":[0.2,0.4,0.6,0.8],"labels":false,"title":null,"tickSize":-5}},"color":{"field":"s","type":"nominal","scale":{"domain":["a","r","c","o"],"range":["#000000","#000000","#ff1a1a","#2c3b9e"]},"legend":null},"strokeDash":{"field":"s","type":"nominal","scale":{"domain":["a","r","c","o"],"range":[[1,0],[6,3],[1,0],[5,2.5]]},"legend":null},"strokeWidth":{"field":"s","type":"nominal","scale":{"domain":["a","r","c","o"],"range":[1.8,1.1,2,1.8]},"legend":null}}},
   {"data":{"name":"ef"},"mark":{"type":"text","text":"Au (O side)","fontSize":32,"align":"center"},"encoding":{"x":{"datum":-5.36},"y":{"datum":0.73,"axis":{"orient":"right","values":[0.2,0.4,0.6,0.8],"labels":false,"title":null,"tickSize":-5}}}},
   {"data":{"name":"ef"},"mark":{"type":"text","text":"s","fontSize":34,"fontStyle":"italic","align":"center"},"encoding":{"x":{"datum":1.62},"y":{"datum":0.62,"axis":null}}}
  ]},
  {"width":501,"height":100,"data":{"name":"L6"},"resolve":{"axis":{"y":"independent"}},"layer":[
   {"data":{"name":"ef"},"mark":{"type":"rule","color":"#777","strokeDash":[1,1.5],"strokeWidth":0.9},"encoding":{"x":{"field":"e","type":"quantitative","scale":{"domain":[-12,4],"nice":false,"zero":false}}}},
   {"mark":{"type":"line","interpolate":"monotone","clip":true},"encoding":{"x":{"field":"x","type":"quantitative","scale":{"domain":[-12,4],"nice":false,"zero":false},"axis":{"values":[-12,-11,-10,-9,-8,-7,-6,-5,-4,-3,-2,-1,0,1,2,3,4],"labelExpr":"datum.value % 2 === 0 ? '' + datum.value : ''","labelFontSize":26,"labelPadding":8,"labelFlush":false,"labelOverlap":false,"title":null,"tickSize":-5}},"y":{"field":"y","type":"quantitative","scale":{"domain":[0,1],"nice":false,"zero":false},"axis":{"values":[0.2,0.4,0.6,0.8],"labels":false,"title":null,"tickSize":-5}},"color":{"field":"s","type":"nominal","scale":{"domain":["a","r","c","o"],"range":["#000000","#000000","#ff1a1a","#2c3b9e"]},"legend":null},"strokeDash":{"field":"s","type":"nominal","scale":{"domain":["a","r","c","o"],"range":[[1,0],[6,3],[1,0],[5,2.5]]},"legend":null},"strokeWidth":{"field":"s","type":"nominal","scale":{"domain":["a","r","c","o"],"range":[1.8,1.1,2,1.8]},"legend":null}}},
   {"data":{"name":"ef"},"mark":{"type":"text","text":"d","fontSize":32,"fontStyle":"italic","align":"left"},"encoding":{"x":{"datum":1.03},"y":{"datum":0.62,"axis":{"orient":"right","values":[0.2,0.4,0.6,0.8],"labels":false,"title":null,"tickSize":-5}}}},
   {"data":{"name":"ef"},"mark":{"type":"text","text":"3z² − r²","fontSize":23,"fontStyle":"italic","align":"left","dx":16,"dy":4},"encoding":{"x":{"datum":1.03},"y":{"datum":0.62,"axis":null}}},
   {"data":{"name":"ef"},"mark":{"type":"text","text":"E\u2002−\u2002E","fontSize":32,"fontStyle":"italic","align":"right"},"encoding":{"x":{"datum":-3.44},"y":{"datum":-0.6,"axis":null}}},
   {"data":{"name":"ef"},"mark":{"type":"text","text":"F","fontSize":18,"align":"left","dx":2,"dy":4},"encoding":{"x":{"datum":-3.44},"y":{"datum":-0.6,"axis":null}}},
   {"data":{"name":"ef"},"mark":{"type":"text","text":"[eV]","fontSize":32,"align":"left","dx":22},"encoding":{"x":{"datum":-3.44},"y":{"datum":-0.6,"axis":null}}}
  ]}
 ]}
 ]}
]},
{"spacing":20,"vconcat":[
 {"spacing":-3,"hconcat":[
  {"width":36,"height":315,"data":{"name":"ef"},"view":{"stroke":null},"mark":{"type":"text","text":"PDOS (arb. units)","fontSize":31,"angle":270,"align":"center","baseline":"middle"},"encoding":{"x":{"datum":0.583,"scale":{"domain":[0,1]},"axis":null},"y":{"datum":0.5,"scale":{"domain":[0,1]},"axis":null}}},
  {"spacing":3,"vconcat":[
  {"width":501,"height":100,"data":{"name":"R1"},"resolve":{"axis":{"y":"independent"}},"layer":[
   {"data":{"name":"ef"},"mark":{"type":"rule","color":"#777","strokeDash":[1,1.5],"strokeWidth":0.9},"encoding":{"x":{"field":"e","type":"quantitative","scale":{"domain":[-12,4],"nice":false,"zero":false}}}},
   {"mark":{"type":"line","interpolate":"monotone","clip":true},"encoding":{"x":{"field":"x","type":"quantitative","scale":{"domain":[-12,4],"nice":false,"zero":false},"axis":{"values":[-12,-11,-10,-9,-8,-7,-6,-5,-4,-3,-2,-1,0,1,2,3,4],"labels":false,"title":null,"tickSize":-5}},"y":{"field":"y","type":"quantitative","scale":{"domain":[0,1],"nice":false,"zero":false},"axis":{"values":[0.2,0.4,0.6,0.8],"labels":false,"title":null,"tickSize":-5}},"color":{"field":"s","type":"nominal","scale":{"domain":["a","r","c","o"],"range":["#000000","#000000","#ff1a1a","#2c3b9e"]},"legend":null},"strokeDash":{"field":"s","type":"nominal","scale":{"domain":["a","r","c","o"],"range":[[1,0],[6,3],[1,0],[5,2.5]]},"legend":null},"strokeWidth":{"field":"s","type":"nominal","scale":{"domain":["a","r","c","o"],"range":[1.8,1.1,2,1.8]},"legend":null}}},
   {"data":{"name":"ef"},"mark":{"type":"text","text":"Au (C side)","fontSize":32,"align":"center"},"encoding":{"x":{"datum":-7.15},"y":{"datum":0.7,"axis":{"orient":"right","values":[0.2,0.4,0.6,0.8],"labels":false,"title":null,"tickSize":-5}}}},
   {"data":{"name":"ef"},"mark":{"type":"text","text":"d","fontSize":32,"fontStyle":"italic","align":"left"},"encoding":{"x":{"datum":0.17},"y":{"datum":0.667,"axis":null}}},
   {"data":{"name":"ef"},"mark":{"type":"text","text":"xz","fontSize":25,"fontStyle":"italic","align":"left","dx":14,"dy":5},"encoding":{"x":{"datum":0.17},"y":{"datum":0.667,"axis":null}}},
   {"data":{"name":"ef"},"mark":{"type":"text","text":"(","fontSize":32,"align":"left","dx":38},"encoding":{"x":{"datum":0.17},"y":{"datum":0.667,"axis":null}}},
   {"data":{"name":"ef"},"mark":{"type":"text","text":"d","fontSize":32,"fontStyle":"italic","align":"left","dx":48},"encoding":{"x":{"datum":0.17},"y":{"datum":0.667,"axis":null}}},
   {"data":{"name":"ef"},"mark":{"type":"text","text":"yz","fontSize":25,"fontStyle":"italic","align":"left","dx":62,"dy":5},"encoding":{"x":{"datum":0.17},"y":{"datum":0.667,"axis":null}}},
   {"data":{"name":"ef"},"mark":{"type":"text","text":")","fontSize":32,"align":"left","dx":87},"encoding":{"x":{"datum":0.17},"y":{"datum":0.667,"axis":null}}}
  ]},
  {"width":501,"height":100,"data":{"name":"R2"},"resolve":{"axis":{"y":"independent"}},"layer":[
   {"data":{"name":"ef"},"mark":{"type":"rule","color":"#777","strokeDash":[1,1.5],"strokeWidth":0.9},"encoding":{"x":{"field":"e","type":"quantitative","scale":{"domain":[-12,4],"nice":false,"zero":false}}}},
   {"mark":{"type":"line","interpolate":"monotone","clip":true},"encoding":{"x":{"field":"x","type":"quantitative","scale":{"domain":[-12,4],"nice":false,"zero":false},"axis":{"values":[-12,-11,-10,-9,-8,-7,-6,-5,-4,-3,-2,-1,0,1,2,3,4],"labels":false,"title":null,"tickSize":-5}},"y":{"field":"y","type":"quantitative","scale":{"domain":[0,1],"nice":false,"zero":false},"axis":{"values":[0.2,0.4,0.6,0.8],"labels":false,"title":null,"tickSize":-5}},"color":{"field":"s","type":"nominal","scale":{"domain":["a","r","c","o"],"range":["#000000","#000000","#ff1a1a","#2c3b9e"]},"legend":null},"strokeDash":{"field":"s","type":"nominal","scale":{"domain":["a","r","c","o"],"range":[[1,0],[6,3],[1,0],[5,2.5]]},"legend":null},"strokeWidth":{"field":"s","type":"nominal","scale":{"domain":["a","r","c","o"],"range":[1.8,1.1,2,1.8]},"legend":null}}},
   {"data":{"name":"ef"},"mark":{"type":"text","text":"C","fontSize":32,"color":"#ff1a1a","align":"right"},"encoding":{"x":{"datum":-4.08},"y":{"datum":0.72,"axis":{"orient":"right","values":[0.2,0.4,0.6,0.8],"labels":false,"title":null,"tickSize":-5}}}},
   {"data":{"name":"ef"},"mark":{"type":"text","text":"O","fontSize":32,"color":"#2c3b9e","align":"left"},"encoding":{"x":{"datum":-4.08},"y":{"datum":0.72,"axis":null}}},
   {"data":{"name":"ef"},"mark":{"type":"text","text":"p","fontSize":32,"fontStyle":"italic","align":"left"},"encoding":{"x":{"datum":-1.15},"y":{"datum":0.6,"axis":null}}},
   {"data":{"name":"ef"},"mark":{"type":"text","text":"x","fontSize":24,"fontStyle":"italic","align":"left","dx":16,"dy":5},"encoding":{"x":{"datum":-1.15},"y":{"datum":0.6,"axis":null}}},
   {"data":{"name":"ef"},"mark":{"type":"text","text":"(","fontSize":32,"align":"left","dx":29},"encoding":{"x":{"datum":-1.15},"y":{"datum":0.6,"axis":null}}},
   {"data":{"name":"ef"},"mark":{"type":"text","text":"p","fontSize":32,"fontStyle":"italic","align":"left","dx":39},"encoding":{"x":{"datum":-1.15},"y":{"datum":0.6,"axis":null}}},
   {"data":{"name":"ef"},"mark":{"type":"text","text":"y","fontSize":24,"fontStyle":"italic","align":"left","dx":55,"dy":5},"encoding":{"x":{"datum":-1.15},"y":{"datum":0.6,"axis":null}}},
   {"data":{"name":"ef"},"mark":{"type":"text","text":")","fontSize":32,"align":"left","dx":70},"encoding":{"x":{"datum":-1.15},"y":{"datum":0.6,"axis":null}}}
  ]},
  {"width":501,"height":101,"data":{"name":"R3"},"resolve":{"axis":{"y":"independent"}},"layer":[
   {"data":{"name":"ef"},"mark":{"type":"rule","color":"#777","strokeDash":[1,1.5],"strokeWidth":0.9},"encoding":{"x":{"field":"e","type":"quantitative","scale":{"domain":[-12,4],"nice":false,"zero":false}}}},
   {"mark":{"type":"line","interpolate":"monotone","clip":true},"encoding":{"x":{"field":"x","type":"quantitative","scale":{"domain":[-12,4],"nice":false,"zero":false},"axis":{"values":[-12,-11,-10,-9,-8,-7,-6,-5,-4,-3,-2,-1,0,1,2,3,4],"labelExpr":"datum.value % 2 === 0 ? '' + datum.value : ''","labelFontSize":26,"labelPadding":9,"labelFlush":false,"labelOverlap":false,"title":null,"tickSize":-5}},"y":{"field":"y","type":"quantitative","scale":{"domain":[0,1],"nice":false,"zero":false},"axis":{"values":[0.2,0.4,0.6,0.8],"labels":false,"title":null,"tickSize":-5}},"color":{"field":"s","type":"nominal","scale":{"domain":["a","r","c","o"],"range":["#000000","#000000","#ff1a1a","#2c3b9e"]},"legend":null},"strokeDash":{"field":"s","type":"nominal","scale":{"domain":["a","r","c","o"],"range":[[1,0],[6,3],[1,0],[5,2.5]]},"legend":null},"strokeWidth":{"field":"s","type":"nominal","scale":{"domain":["a","r","c","o"],"range":[1.8,1.1,2,1.8]},"legend":null}}},
   {"data":{"name":"ef"},"mark":{"type":"text","text":"Au (O side)","fontSize":32,"align":"center"},"encoding":{"x":{"datum":-7.15},"y":{"datum":0.73,"axis":{"orient":"right","values":[0.2,0.4,0.6,0.8],"labels":false,"title":null,"tickSize":-5}}}},
   {"data":{"name":"ef"},"mark":{"type":"text","text":"d","fontSize":32,"fontStyle":"italic","align":"left"},"encoding":{"x":{"datum":0.17},"y":{"datum":0.67,"axis":null}}},
   {"data":{"name":"ef"},"mark":{"type":"text","text":"xz","fontSize":25,"fontStyle":"italic","align":"left","dx":14,"dy":5},"encoding":{"x":{"datum":0.17},"y":{"datum":0.67,"axis":null}}},
   {"data":{"name":"ef"},"mark":{"type":"text","text":"(","fontSize":32,"align":"left","dx":38},"encoding":{"x":{"datum":0.17},"y":{"datum":0.67,"axis":null}}},
   {"data":{"name":"ef"},"mark":{"type":"text","text":"d","fontSize":32,"fontStyle":"italic","align":"left","dx":48},"encoding":{"x":{"datum":0.17},"y":{"datum":0.67,"axis":null}}},
   {"data":{"name":"ef"},"mark":{"type":"text","text":"yz","fontSize":25,"fontStyle":"italic","align":"left","dx":62,"dy":5},"encoding":{"x":{"datum":0.17},"y":{"datum":0.67,"axis":null}}},
   {"data":{"name":"ef"},"mark":{"type":"text","text":")","fontSize":32,"align":"left","dx":87},"encoding":{"x":{"datum":0.17},"y":{"datum":0.67,"axis":null}}},
   {"data":{"name":"ef"},"mark":{"type":"text","text":"E\u2002−\u2002E","fontSize":32,"fontStyle":"italic","align":"right"},"encoding":{"x":{"datum":-3.54},"y":{"datum":-0.61,"axis":null}}},
   {"data":{"name":"ef"},"mark":{"type":"text","text":"F","fontSize":18,"align":"left","dx":2,"dy":4},"encoding":{"x":{"datum":-3.54},"y":{"datum":-0.61,"axis":null}}},
   {"data":{"name":"ef"},"mark":{"type":"text","text":"[eV]","fontSize":32,"align":"left","dx":22},"encoding":{"x":{"datum":-3.54},"y":{"datum":-0.61,"axis":null}}}
  ]}
  ]}
 ]},
 {"width":566,"height":228,"data":{"name":"cap"},"view":{"stroke":null},"layer":[
  {"mark":{"type":"text","align":"left","baseline":"middle","fontSize":29,"fontStyle":"italic","fontWeight":"bold"},"encoding":{"x":{"datum":0.056,"scale":{"domain":[0,1]},"axis":null},"y":{"field":"i","type":"ordinal","scale":{"type":"band","paddingInner":0,"paddingOuter":0},"axis":null},"text":{"field":"b"}}},
  {"mark":{"type":"text","align":"left","baseline":"middle","fontSize":29,"fontStyle":"italic"},"encoding":{"x":{"datum":0.056},"y":{"field":"i","type":"ordinal"},"text":{"field":"l"}}},
  {"mark":{"type":"text","align":"right","baseline":"middle","fontSize":29,"fontStyle":"italic"},"encoding":{"x":{"datum":0.9982},"y":{"field":"i","type":"ordinal"},"text":{"field":"r"}}}
 ]}
]}
]
}
